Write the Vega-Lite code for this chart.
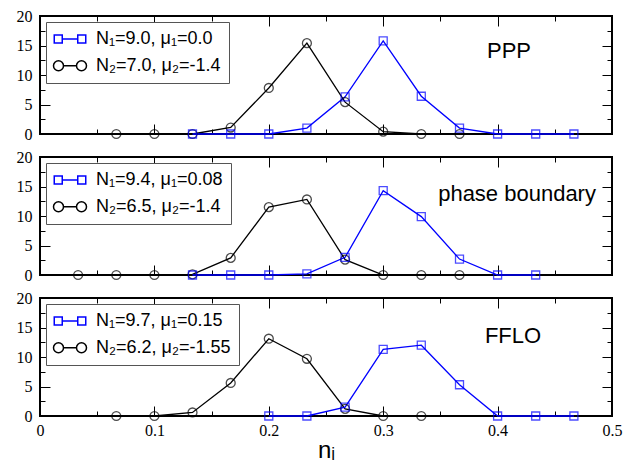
{
  "$schema": "https://vega.github.io/schema/vega-lite/v6.json",
  "padding": {"left": 15, "top": 7, "right": 5, "bottom": 0},
  "background": "white",
  "bounds": "flush",
  "config": {
    "view": {"stroke": "black", "strokeWidth": 2},
    "font": "Liberation Sans",
    "axis": {"domain": false, "grid": false, "labelFont": "Liberation Serif", "labelFontSize": 16, "labelColor": "black", "tickColor": "black", "tickWidth": 1, "labelFlush": false, "labelOverlap": false, "title": null},
    "legend": {"orient": "top-left", "offset": 6, "title": null, "padding": 8, "strokeColor": "#555555", "fillColor": "white", "labelFont": "Liberation Sans", "labelFontSize": 18, "labelColor": "black", "symbolSize": 100, "symbolStrokeWidth": 1.5, "symbolOffset": 7, "labelOffset": 17, "rowPadding": 8.7}
  },
  "datasets": {
    "pts": [
      {"p": "PPP", "s": "2", "x": 0.0667, "y": 0},
      {"p": "PPP", "s": "2", "x": 0.1, "y": 0},
      {"p": "PPP", "s": "2", "x": 0.1333, "y": 0},
      {"p": "PPP", "s": "2", "x": 0.1667, "y": 1.1},
      {"p": "PPP", "s": "2", "x": 0.2, "y": 7.8},
      {"p": "PPP", "s": "2", "x": 0.2333, "y": 15.4},
      {"p": "PPP", "s": "2", "x": 0.2667, "y": 5.4},
      {"p": "PPP", "s": "2", "x": 0.3, "y": 0.4},
      {"p": "PPP", "s": "2", "x": 0.3333, "y": 0},
      {"p": "PPP", "s": "2", "x": 0.3667, "y": 0},
      {"p": "PPP", "s": "1", "x": 0.1333, "y": 0},
      {"p": "PPP", "s": "1", "x": 0.1667, "y": 0},
      {"p": "PPP", "s": "1", "x": 0.2, "y": 0},
      {"p": "PPP", "s": "1", "x": 0.2333, "y": 1.0},
      {"p": "PPP", "s": "1", "x": 0.2667, "y": 6.3},
      {"p": "PPP", "s": "1", "x": 0.3, "y": 15.8},
      {"p": "PPP", "s": "1", "x": 0.3333, "y": 6.4},
      {"p": "PPP", "s": "1", "x": 0.3667, "y": 1.0},
      {"p": "PPP", "s": "1", "x": 0.4, "y": 0},
      {"p": "PPP", "s": "1", "x": 0.4333, "y": 0},
      {"p": "PPP", "s": "1", "x": 0.4667, "y": 0},
      {"p": "PB", "s": "2", "x": 0.0333, "y": 0},
      {"p": "PB", "s": "2", "x": 0.0667, "y": 0},
      {"p": "PB", "s": "2", "x": 0.1, "y": 0},
      {"p": "PB", "s": "2", "x": 0.1333, "y": 0.1},
      {"p": "PB", "s": "2", "x": 0.1667, "y": 2.9},
      {"p": "PB", "s": "2", "x": 0.2, "y": 11.5},
      {"p": "PB", "s": "2", "x": 0.2333, "y": 12.8},
      {"p": "PB", "s": "2", "x": 0.2667, "y": 2.6},
      {"p": "PB", "s": "2", "x": 0.3, "y": 0},
      {"p": "PB", "s": "2", "x": 0.3333, "y": 0},
      {"p": "PB", "s": "2", "x": 0.3667, "y": 0},
      {"p": "PB", "s": "1", "x": 0.1333, "y": 0},
      {"p": "PB", "s": "1", "x": 0.1667, "y": 0},
      {"p": "PB", "s": "1", "x": 0.2, "y": 0},
      {"p": "PB", "s": "1", "x": 0.2333, "y": 0.2},
      {"p": "PB", "s": "1", "x": 0.2667, "y": 3.0},
      {"p": "PB", "s": "1", "x": 0.3, "y": 14.3},
      {"p": "PB", "s": "1", "x": 0.3333, "y": 9.9},
      {"p": "PB", "s": "1", "x": 0.3667, "y": 2.7},
      {"p": "PB", "s": "1", "x": 0.4, "y": 0},
      {"p": "PB", "s": "1", "x": 0.4333, "y": 0},
      {"p": "FFLO", "s": "2", "x": 0.0667, "y": 0},
      {"p": "FFLO", "s": "2", "x": 0.1, "y": 0},
      {"p": "FFLO", "s": "2", "x": 0.1333, "y": 0.6},
      {"p": "FFLO", "s": "2", "x": 0.1667, "y": 5.6},
      {"p": "FFLO", "s": "2", "x": 0.2, "y": 13.1},
      {"p": "FFLO", "s": "2", "x": 0.2333, "y": 9.7},
      {"p": "FFLO", "s": "2", "x": 0.2667, "y": 1.2},
      {"p": "FFLO", "s": "2", "x": 0.3, "y": 0},
      {"p": "FFLO", "s": "2", "x": 0.3333, "y": 0},
      {"p": "FFLO", "s": "1", "x": 0.2, "y": 0},
      {"p": "FFLO", "s": "1", "x": 0.2333, "y": 0},
      {"p": "FFLO", "s": "1", "x": 0.2667, "y": 1.5},
      {"p": "FFLO", "s": "1", "x": 0.3, "y": 11.3},
      {"p": "FFLO", "s": "1", "x": 0.3333, "y": 12.0},
      {"p": "FFLO", "s": "1", "x": 0.3667, "y": 5.3},
      {"p": "FFLO", "s": "1", "x": 0.4, "y": 0},
      {"p": "FFLO", "s": "1", "x": 0.4333, "y": 0},
      {"p": "FFLO", "s": "1", "x": 0.4667, "y": 0}
    ],
    "notes": [
      {"p": "PPP", "x": 0.41, "y": 14.1, "t": "PPP"},
      {"p": "PB", "x": 0.417, "y": 13.7, "t": "phase boundary"},
      {"p": "FFLO", "x": 0.4135, "y": 13.5, "t": "FFLO"}
    ]
  },
  "spacing": 23,
  "resolve": {"scale": {"color": "independent"}, "legend": {"color": "independent"}},
  "vconcat": [
    {
      "width": 572, "height": 118,
      "resolve": {"axis": {"x": "independent", "y": "independent"}},
      "layer": [
        {
          "data": {"name": "pts"},
          "transform": [{"filter": "datum.p === 'PPP'"}],
          "mark": {"type": "line", "strokeWidth": 1.3},
          "encoding": {
            "x": {"field": "x", "type": "quantitative", "scale": {"domain": [0, 0.5], "nice": false}, "axis": {"orient": "bottom", "values": [0, 0.1, 0.2, 0.3, 0.4, 0.5], "tickSize": -10, "labels": false}},
            "y": {"field": "y", "type": "quantitative", "scale": {"domain": [0, 20], "nice": false}, "axis": {"orient": "left", "values": [0, 5, 10, 15, 20], "tickSize": -10, "labelPadding": 18}},
            "color": {"field": "s", "type": "nominal", "scale": {"domain": ["1", "2"], "range": ["#0000ff", "#000000"]},
              "legend": {
                "labelExpr": "datum.value === '1' ? 'N₁=9.0, μ₁=0.0' : 'N₂=7.0, μ₂=-1.4'",
                "encode": {"symbols": {"update": {"shape": {"signal": "datum.value === '1' ? 'M-3.15,-0.8H-1.55V0.8H-3.15Z M-1.55,0H1.55 M1.55,-0.8H3.15V0.8H1.55Z' : 'M-1.3,0A1,1 0 1,1 -3.3,0A1,1 0 1,1 -1.3,0 M-1.3,0H1.3 M3.3,0A1,1 0 1,1 1.3,0A1,1 0 1,1 3.3,0'"}, "fill": {"value": "transparent"}}}}}}
          }
        },
        {
          "data": {"name": "pts"},
          "transform": [{"filter": "datum.p === 'PPP' && datum.s === '2'"}],
          "mark": {"type": "point", "shape": "circle", "size": 80, "strokeWidth": 1.3, "filled": false},
          "encoding": {
            "x": {"field": "x", "type": "quantitative", "axis": {"orient": "top", "values": [0, 0.1, 0.2, 0.3, 0.4, 0.5], "tickSize": -10, "labels": false}},
            "y": {"field": "y", "type": "quantitative", "axis": {"orient": "right", "values": [0, 5, 10, 15, 20], "tickSize": -10, "labels": false}},
            "color": {"field": "s", "type": "nominal", "legend": null}
          }
        },
        {
          "data": {"name": "pts"},
          "transform": [{"filter": "datum.p === 'PPP' && datum.s === '1'"}],
          "mark": {"type": "point", "shape": "square", "size": 64, "strokeWidth": 1.3, "filled": false},
          "encoding": {
            "x": {"field": "x", "type": "quantitative", "axis": {"orient": "bottom", "values": [0.05, 0.15, 0.25, 0.35, 0.45], "tickSize": -5, "labels": false}},
            "y": {"field": "y", "type": "quantitative", "axis": {"orient": "left", "values": [2.5, 7.5, 12.5, 17.5], "tickSize": -5, "labels": false}},
            "color": {"field": "s", "type": "nominal", "legend": null}
          }
        },
        {
          "data": {"name": "notes"},
          "transform": [{"filter": "datum.p === 'PPP'"}],
          "mark": {"type": "text", "fontSize": 22, "font": "Liberation Sans", "color": "black", "align": "center", "baseline": "middle"},
          "encoding": {
            "x": {"field": "x", "type": "quantitative", "axis": {"orient": "top", "values": [0.05, 0.15, 0.25, 0.35, 0.45], "tickSize": -5, "labels": false}},
            "y": {"field": "y", "type": "quantitative", "axis": {"orient": "right", "values": [2.5, 7.5, 12.5, 17.5], "tickSize": -5, "labels": false}},
            "text": {"field": "t"}
          }
        }
      ]
    },
    {
      "width": 572, "height": 118,
      "resolve": {"axis": {"x": "independent", "y": "independent"}},
      "layer": [
        {
          "data": {"name": "pts"},
          "transform": [{"filter": "datum.p === 'PB'"}],
          "mark": {"type": "line", "strokeWidth": 1.3},
          "encoding": {
            "x": {"field": "x", "type": "quantitative", "scale": {"domain": [0, 0.5], "nice": false}, "axis": {"orient": "bottom", "values": [0, 0.1, 0.2, 0.3, 0.4, 0.5], "tickSize": -10, "labels": false}},
            "y": {"field": "y", "type": "quantitative", "scale": {"domain": [0, 20], "nice": false}, "axis": {"orient": "left", "values": [0, 5, 10, 15, 20], "tickSize": -10, "labelPadding": 18}},
            "color": {"field": "s", "type": "nominal", "scale": {"domain": ["1", "2"], "range": ["#0000ff", "#000000"]},
              "legend": {
                "labelExpr": "datum.value === '1' ? 'N₁=9.4, μ₁=0.08' : 'N₂=6.5, μ₂=-1.4'",
                "encode": {"symbols": {"update": {"shape": {"signal": "datum.value === '1' ? 'M-3.15,-0.8H-1.55V0.8H-3.15Z M-1.55,0H1.55 M1.55,-0.8H3.15V0.8H1.55Z' : 'M-1.3,0A1,1 0 1,1 -3.3,0A1,1 0 1,1 -1.3,0 M-1.3,0H1.3 M3.3,0A1,1 0 1,1 1.3,0A1,1 0 1,1 3.3,0'"}, "fill": {"value": "transparent"}}}}}}
          }
        },
        {
          "data": {"name": "pts"},
          "transform": [{"filter": "datum.p === 'PB' && datum.s === '2'"}],
          "mark": {"type": "point", "shape": "circle", "size": 80, "strokeWidth": 1.3, "filled": false},
          "encoding": {
            "x": {"field": "x", "type": "quantitative", "axis": {"orient": "top", "values": [0, 0.1, 0.2, 0.3, 0.4, 0.5], "tickSize": -10, "labels": false}},
            "y": {"field": "y", "type": "quantitative", "axis": {"orient": "right", "values": [0, 5, 10, 15, 20], "tickSize": -10, "labels": false}},
            "color": {"field": "s", "type": "nominal", "legend": null}
          }
        },
        {
          "data": {"name": "pts"},
          "transform": [{"filter": "datum.p === 'PB' && datum.s === '1'"}],
          "mark": {"type": "point", "shape": "square", "size": 64, "strokeWidth": 1.3, "filled": false},
          "encoding": {
            "x": {"field": "x", "type": "quantitative", "axis": {"orient": "bottom", "values": [0.05, 0.15, 0.25, 0.35, 0.45], "tickSize": -5, "labels": false}},
            "y": {"field": "y", "type": "quantitative", "axis": {"orient": "left", "values": [2.5, 7.5, 12.5, 17.5], "tickSize": -5, "labels": false}},
            "color": {"field": "s", "type": "nominal", "legend": null}
          }
        },
        {
          "data": {"name": "notes"},
          "transform": [{"filter": "datum.p === 'PB'"}],
          "mark": {"type": "text", "fontSize": 22, "font": "Liberation Sans", "color": "black", "align": "center", "baseline": "middle"},
          "encoding": {
            "x": {"field": "x", "type": "quantitative", "axis": {"orient": "top", "values": [0.05, 0.15, 0.25, 0.35, 0.45], "tickSize": -5, "labels": false}},
            "y": {"field": "y", "type": "quantitative", "axis": {"orient": "right", "values": [2.5, 7.5, 12.5, 17.5], "tickSize": -5, "labels": false}},
            "text": {"field": "t"}
          }
        }
      ]
    },
    {
      "width": 572, "height": 118,
      "resolve": {"axis": {"x": "independent", "y": "independent"}},
      "layer": [
        {
          "data": {"name": "pts"},
          "transform": [{"filter": "datum.p === 'FFLO'"}],
          "mark": {"type": "line", "strokeWidth": 1.3},
          "encoding": {
            "x": {"field": "x", "type": "quantitative", "scale": {"domain": [0, 0.5], "nice": false}, "axis": {"orient": "bottom", "values": [0, 0.1, 0.2, 0.3, 0.4, 0.5], "tickSize": -10, "labelPadding": 16, "format": ".1~f", "title": "nᵢ", "titleFont": "Liberation Sans", "titleFontSize": 24, "titleFontWeight": "normal", "titleColor": "black", "titlePadding": 0}},
            "y": {"field": "y", "type": "quantitative", "scale": {"domain": [0, 20], "nice": false}, "axis": {"orient": "left", "values": [0, 5, 10, 15, 20], "tickSize": -10, "labelPadding": 18}},
            "color": {"field": "s", "type": "nominal", "scale": {"domain": ["1", "2"], "range": ["#0000ff", "#000000"]},
              "legend": {
                "labelExpr": "datum.value === '1' ? 'N₁=9.7, μ₁=0.15' : 'N₂=6.2, μ₂=-1.55'",
                "encode": {"symbols": {"update": {"shape": {"signal": "datum.value === '1' ? 'M-3.15,-0.8H-1.55V0.8H-3.15Z M-1.55,0H1.55 M1.55,-0.8H3.15V0.8H1.55Z' : 'M-1.3,0A1,1 0 1,1 -3.3,0A1,1 0 1,1 -1.3,0 M-1.3,0H1.3 M3.3,0A1,1 0 1,1 1.3,0A1,1 0 1,1 3.3,0'"}, "fill": {"value": "transparent"}}}}}}
          }
        },
        {
          "data": {"name": "pts"},
          "transform": [{"filter": "datum.p === 'FFLO' && datum.s === '2'"}],
          "mark": {"type": "point", "shape": "circle", "size": 80, "strokeWidth": 1.3, "filled": false},
          "encoding": {
            "x": {"field": "x", "type": "quantitative", "axis": {"orient": "top", "values": [0, 0.1, 0.2, 0.3, 0.4, 0.5], "tickSize": -10, "labels": false}},
            "y": {"field": "y", "type": "quantitative", "axis": {"orient": "right", "values": [0, 5, 10, 15, 20], "tickSize": -10, "labels": false}},
            "color": {"field": "s", "type": "nominal", "legend": null}
          }
        },
        {
          "data": {"name": "pts"},
          "transform": [{"filter": "datum.p === 'FFLO' && datum.s === '1'"}],
          "mark": {"type": "point", "shape": "square", "size": 64, "strokeWidth": 1.3, "filled": false},
          "encoding": {
            "x": {"field": "x", "type": "quantitative", "axis": {"orient": "bottom", "values": [0.05, 0.15, 0.25, 0.35, 0.45], "tickSize": -5, "labels": false}},
            "y": {"field": "y", "type": "quantitative", "axis": {"orient": "left", "values": [2.5, 7.5, 12.5, 17.5], "tickSize": -5, "labels": false}},
            "color": {"field": "s", "type": "nominal", "legend": null}
          }
        },
        {
          "data": {"name": "notes"},
          "transform": [{"filter": "datum.p === 'FFLO'"}],
          "mark": {"type": "text", "fontSize": 22, "font": "Liberation Sans", "color": "black", "align": "center", "baseline": "middle"},
          "encoding": {
            "x": {"field": "x", "type": "quantitative", "axis": {"orient": "top", "values": [0.05, 0.15, 0.25, 0.35, 0.45], "tickSize": -5, "labels": false}},
            "y": {"field": "y", "type": "quantitative", "axis": {"orient": "right", "values": [2.5, 7.5, 12.5, 17.5], "tickSize": -5, "labels": false}},
            "text": {"field": "t"}
          }
        }
      ]
    }
  ]
}
